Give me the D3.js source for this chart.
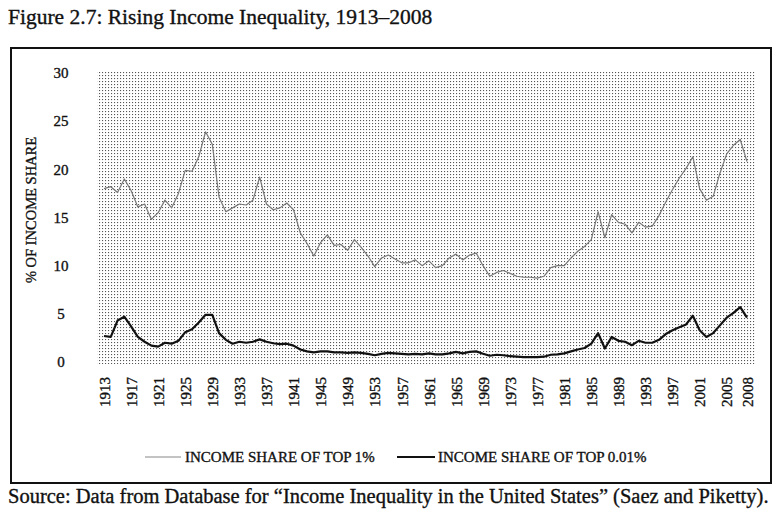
<!DOCTYPE html>
<html>
<head>
<meta charset="utf-8">
<script src="https://cdn.jsdelivr.net/npm/d3@7/dist/d3.min.js"></script>
<style>
	body { margin: 0; background: #fff; }
	svg text { font-family: "Liberation Serif", "DejaVu Serif", serif; fill: #111; }
	svg .heavy { stroke: #111; stroke-width: 0.35; }
</style>
</head>
<body>
<svg id="chart" width="779" height="520"></svg>
<script>
"use strict";

//years covered by both series
let years = d3.range(1913, 2009);

//income share of top 1%, percent
let top1 = [
	18.0, 18.2, 17.6, 19.0, 17.8, 16.1, 16.4, 14.8, 15.5, 16.8,
	16.0, 17.5, 19.9, 19.8, 21.3, 23.9, 22.6, 17.1, 15.6, 16.0,
	16.4, 16.3, 16.8, 19.2, 16.4, 15.8, 16.0, 16.5, 15.8, 13.4,
	12.3, 11.0, 12.4, 13.2, 12.1, 12.2, 11.6, 12.7, 11.9, 11.0,
	9.9, 10.8, 11.1, 10.7, 10.3, 10.3, 10.6, 10.0, 10.5, 9.8,
	10.0, 10.8, 11.2, 10.6, 11.1, 11.3, 10.0, 8.9, 9.3, 9.5,
	9.2, 8.9, 8.8, 8.8, 8.7, 8.9, 9.8, 10.0, 10.0, 10.8,
	11.5, 12.0, 12.7, 15.6, 12.9, 15.3, 14.5, 14.3, 13.4, 14.5,
	14.0, 14.1, 15.2, 16.6, 17.9, 19.1, 20.1, 21.3, 18.0, 16.8,
	17.2, 19.6, 21.6, 22.5, 23.1, 20.8
];

//income share of top 0.01%, percent
let top001 = [
	2.7, 2.6, 4.3, 4.7, 3.7, 2.6, 2.1, 1.7, 1.6, 2.0,
	1.9, 2.2, 3.1, 3.4, 4.1, 4.9, 4.9, 3.0, 2.3, 1.9,
	2.1, 2.0, 2.1, 2.35, 2.1, 1.95, 1.85, 1.9, 1.7, 1.3,
	1.1, 1.0, 1.1, 1.1, 1.0, 1.0, 0.95, 1.0, 0.95, 0.85,
	0.7, 0.85, 0.95, 0.9, 0.85, 0.8, 0.85, 0.8, 0.9, 0.8,
	0.8, 0.9, 1.05, 0.9, 1.05, 1.1, 0.85, 0.65, 0.75, 0.7,
	0.6, 0.55, 0.5, 0.5, 0.5, 0.55, 0.75, 0.8, 0.9, 1.1,
	1.3, 1.45, 1.9, 3.0, 1.4, 2.6, 2.2, 2.1, 1.75, 2.2,
	2.0, 2.0, 2.3, 2.9, 3.3, 3.6, 3.9, 4.8, 3.3, 2.6,
	3.0, 3.8, 4.6, 5.1, 5.7, 4.6
];

let year_ticks = [1913, 1917, 1921, 1925, 1929, 1933, 1937, 1941, 1945, 1949,
	1953, 1957, 1961, 1965, 1969, 1973, 1977, 1981, 1985, 1989,
	1993, 1997, 2001, 2005, 2008];
let value_ticks = [0, 5, 10, 15, 20, 25, 30];

let series_names = ["INCOME SHARE OF TOP 1%", "INCOME SHARE OF TOP 0.01%"];

(function()
{
	let svg = d3.select("svg#chart");

	let x = d3.scaleLinear().domain([1913, 2008]).range([104, 747]);
	let y = d3.scaleLinear().domain([0, 30]).range([362, 73]);

	//stipple fill of the plot area
	let pat = svg.append("defs").append("pattern")
		.attr("id", "stipple")
		.attr("patternUnits", "userSpaceOnUse")
		.attr("width", 3)
		.attr("height", 3);
	pat.append("rect")
		.attr("width", 1.1)
		.attr("height", 1.1)
		.attr("fill", "#555");

	//title
	svg.append("text")
		.attr("class", "heavy")
		.attr("x", 8)
		.attr("y", 24)
		.attr("font-size", 21.5)
		.text("Figure 2.7: Rising Income Inequality, 1913\u20132008");

	//frame
	svg.append("rect")
		.attr("x", 11)
		.attr("y", 48)
		.attr("width", 760)
		.attr("height", 435)
		.attr("fill", "none")
		.attr("stroke", "#111")
		.attr("stroke-width", 2);

	svg.append("rect")
		.attr("x", 97)
		.attr("y", 72)
		.attr("width", 658)
		.attr("height", 292)
		.attr("fill", "url(#stipple)");

	//y axis, labels only
	let y_axis = svg.append("g")
		.attr("transform", "translate(69,0)")
		.call(d3.axisLeft(y).tickValues(value_ticks).tickSize(0).tickPadding(0));
	y_axis.select(".domain").remove();
	y_axis.selectAll("text")
		.attr("class", "heavy")
		.attr("x", -8)
		.attr("text-anchor", "middle")
		.attr("font-size", 15)
		.attr("font-family", null);

	svg.append("text")
		.attr("class", "heavy")
		.attr("transform", "translate(31,210) rotate(-90)")
		.attr("dy", "0.35em")
		.attr("text-anchor", "middle")
		.attr("font-size", 14.5)
		.text("% OF INCOME SHARE");

	//x axis, rotated year labels
	let x_axis = svg.append("g")
		.attr("transform", "translate(0,377)")
		.call(d3.axisBottom(x).tickValues(year_ticks).tickFormat(d3.format("d")).tickSize(0).tickPadding(0));
	x_axis.select(".domain").remove();
	x_axis.selectAll("text")
		.attr("class", "heavy")
		.attr("transform", "rotate(-90)")
		.attr("x", 0)
		.attr("y", 0)
		.attr("dy", "0.35em")
		.attr("text-anchor", "end")
		.attr("font-size", 15)
		.attr("font-family", null);

	//lines
	let line_func = d3.line()
		.x(function(d, i) { return x(years[i]); })
		.y(function(d) { return y(d); });

	svg.append("path")
		.attr("d", line_func(top1))
		.attr("fill", "none")
		.attr("stroke", "#777")
		.attr("stroke-width", 1.2)
		.attr("stroke-linejoin", "round");

	svg.append("path")
		.attr("d", line_func(top001))
		.attr("fill", "none")
		.attr("stroke", "#111")
		.attr("stroke-width", 2.2)
		.attr("stroke-linejoin", "round");

	//legend
	let legend = svg.append("g");
	let legend_items = [
		{name: series_names[0], x0: 145, x1: 181, tx: 185, stroke: "#888", w: 1.2},
		{name: series_names[1], x0: 397, x1: 435, tx: 438, stroke: "#111", w: 2}
	];
	for (let item of legend_items)
	{
		legend.append("line")
			.attr("x1", item.x0)
			.attr("x2", item.x1)
			.attr("y1", 457)
			.attr("y2", 457)
			.attr("stroke", item.stroke)
			.attr("stroke-width", item.w);
		legend.append("text")
			.attr("class", "heavy")
			.attr("x", item.tx)
			.attr("y", 462)
			.attr("font-size", 15)
			.text(item.name);
	}

	//source note
	svg.append("text")
		.attr("class", "heavy")
		.attr("x", 8)
		.attr("y", 503)
		.attr("font-size", 20.5)
		.text("Source: Data from Database for \u201cIncome Inequality in the United States\u201d (Saez and Piketty).");
})();
</script>
</body>
</html>
